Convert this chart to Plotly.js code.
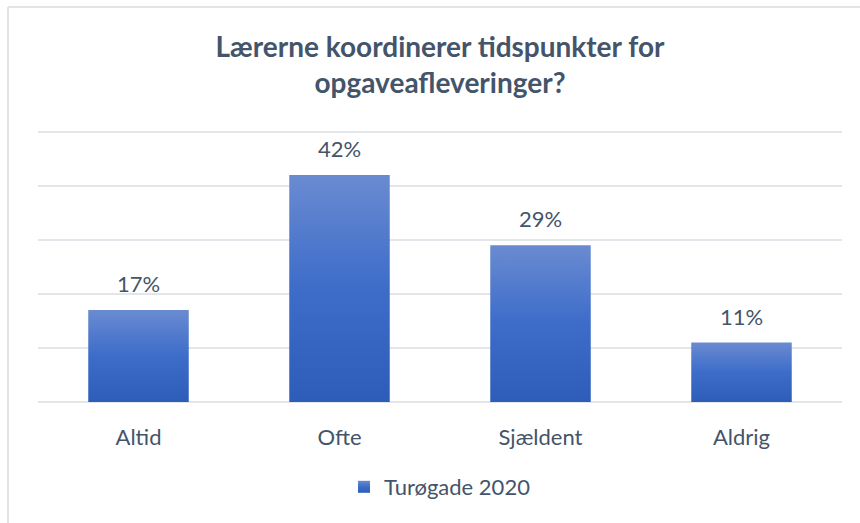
<!DOCTYPE html>
<html>
<head>
<meta charset="utf-8">
<script src="https://cdn.plot.ly/plotly-3.0.1.min.js"></script>
<style>
  html, body { margin: 0; padding: 0; background: #ffffff; }
  #chart { width: 860px; height: 523px; }
</style>
</head>
<body>
<div id="chart"></div>
<script>
const categories = ["Altid", "Ofte", "Sjældent", "Aldrig"];
const values = [17, 42, 29, 11];
const valueLabels = ["17%", "42%", "29%", "11%"];
const seriesName = "Turøgade 2020";
const titleText = "Lærerne koordinerer tidspunkter for<br>opgaveafleveringer?";

const textColor = "#44546A";
const fontFamily = "Lato, 'Open Sans', sans-serif";

const trace = {
  type: "bar",
  x: categories,
  y: values,
  name: seriesName,
  showlegend: true,
  marker: { color: "#4472C4", line: { width: 0 } },
  hoverinfo: "none"
};

const annotations = categories.map((c, i) => ({
  x: c, y: values[i], xref: "x", yref: "y",
  text: valueLabels[i], showarrow: false,
  yanchor: "bottom", yshift: 11,
  font: { family: fontFamily, size: 22, color: textColor }
}));

const layout = {
  width: 860, height: 523,
  margin: { l: 38, r: 18, t: 130, b: 121 },
  paper_bgcolor: "#ffffff",
  plot_bgcolor: "#ffffff",
  font: { family: fontFamily, color: textColor },
  title: {
    text: titleText,
    font: { family: fontFamily, size: 28, color: textColor, weight: "bold" },
    x: 440 / 860, xanchor: "center", xref: "container",
    y: 1 - 57 / 523, yanchor: "top", yref: "container"
  },
  bargap: 0.5,
  xaxis: {
    type: "category",
    showgrid: false, showline: false, zeroline: false,
    ticks: "", ticklabelstandoff: 20,
    tickfont: { family: fontFamily, size: 22, color: textColor }
  },
  yaxis: {
    range: [0, 50.3], dtick: 10, tick0: 0,
    showticklabels: false, ticks: "",
    showgrid: true, gridcolor: "#e2e5ea", gridwidth: 2,
    zeroline: true, zerolinecolor: "#e2e5ea", zerolinewidth: 2,
    showline: false, fixedrange: true
  },
  showlegend: true,
  legend: {
    orientation: "h", x: 0.5, xanchor: "center",
    y: (402 - 487) / 272, yanchor: "middle",
    font: { family: fontFamily, size: 22, color: textColor },
    itemclick: false
  },
  annotations: annotations,
  shapes: [
    { type: "line", xref: "paper", yref: "paper",
      x0: (8 - 38) / 804, x1: (8 - 38) / 804, y0: (402 - 530) / 272, y1: (402 - 7) / 272,
      line: { color: "#d9dce1", width: 1.5 }, layer: "below" },
    { type: "line", xref: "paper", yref: "paper",
      x0: (8 - 38) / 804, x1: (870 - 38) / 804, y0: (402 - 7) / 272, y1: (402 - 7) / 272,
      line: { color: "#d9dce1", width: 1.5 }, layer: "below" }
  ]
};

Plotly.newPlot("chart", [trace], layout, { displayModeBar: false, staticPlot: true }).then(gd => {
  const NS = "http://www.w3.org/2000/svg";
  const svg = gd.querySelector("svg.main-svg");
  let defs = svg.querySelector("defs");
  if (!defs) { defs = document.createElementNS(NS, "defs"); svg.insertBefore(defs, svg.firstChild); }
  const grad = document.createElementNS(NS, "linearGradient");
  grad.setAttribute("id", "barGrad");
  grad.setAttribute("x1", "0"); grad.setAttribute("y1", "0");
  grad.setAttribute("x2", "0"); grad.setAttribute("y2", "1");
  [["0", "#6a8bd1"], ["0.5", "#3d6cc9"], ["1", "#2e5cb9"]].forEach(([o, c]) => {
    const s = document.createElementNS(NS, "stop");
    s.setAttribute("offset", o); s.setAttribute("stop-color", c);
    grad.appendChild(s);
  });
  defs.appendChild(grad);
  gd.querySelectorAll(".bars .point path, .legendpoints path").forEach(p => {
    p.style.fill = "url(#barGrad)";
  });
});
</script>
</body>
</html>
